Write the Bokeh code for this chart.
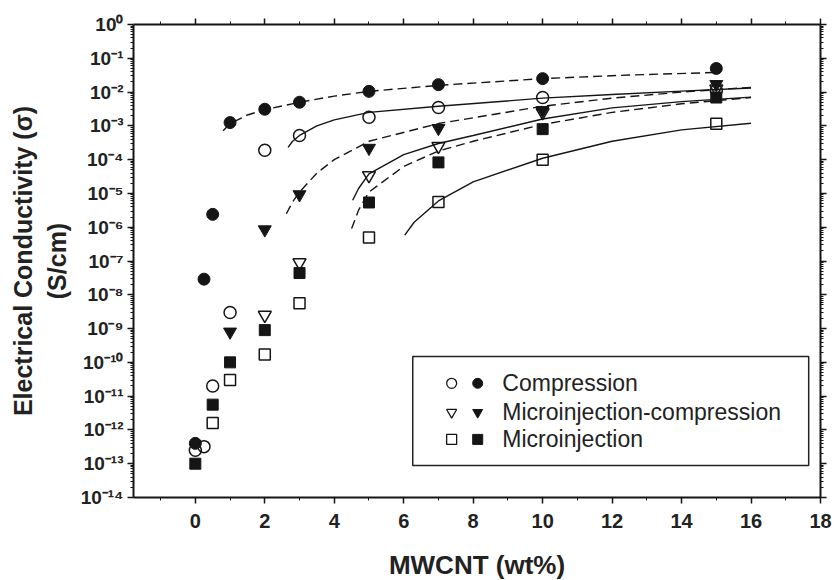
from bokeh.plotting import figure
from bokeh.models import (LinearAxis, LogAxis, FixedTicker, CustomJSTickFormatter,
                          Range1d)
from bokeh.core.properties import value
from bokeh.embed import file_html
from bokeh.resources import INLINE

# ---- measured conductivity (S/cm) vs MWCNT loading (wt%) ----
comp_fill_x = [0, 0.25, 0.5, 1, 2, 3, 5, 7, 10, 15]
comp_fill_y = [4e-13, 2.9e-8, 2.4e-6, 1.25e-3, 3.1e-3, 5.0e-3, 1.05e-2, 1.66e-2, 2.5e-2, 5.0e-2]
comp_open_x = [0, 0.25, 0.5, 1, 2, 3, 5, 7, 10, 15]
comp_open_y = [2.5e-13, 3.2e-13, 2.0e-11, 3.0e-9, 1.9e-4, 5.2e-4, 1.8e-3, 3.5e-3, 6.9e-3, 1.1e-2]

mc_fill_x = [1, 2, 3, 5, 7, 10, 15]
mc_fill_y = [8e-10, 8.5e-7, 9.3e-6, 2.2e-4, 8.5e-4, 2.9e-3, 1.7e-2]
mc_open_x = [2, 3, 5, 7, 10, 15]
mc_open_y = [2.5e-9, 9e-8, 3.4e-5, 2.5e-4, 2.5e-3, 1.25e-2]

mi_fill_x = [0, 0.5, 1, 2, 3, 5, 7, 10, 15]
mi_fill_y = [1e-13, 5.6e-12, 1e-10, 9e-10, 4.4e-8, 5.4e-6, 8.3e-5, 8e-4, 6.9e-3]
mi_open_x = [0.5, 1, 2, 3, 5, 7, 10, 15]
mi_open_y = [1.6e-12, 3e-11, 1.7e-10, 5.6e-9, 5e-7, 5.6e-6, 1e-4, 1.15e-3]

# ---- percolation fit curves (dashed: filled symbols, solid: open symbols) ----
fit_comp_fill_x = [0.8, 1, 1.5, 2, 3, 4, 5, 7, 10, 12.5, 15]
fit_comp_fill_y = [7.2e-4, 1.17e-3, 2.1e-3, 3.0e-3, 5.0e-3, 7.6e-3, 1.05e-2, 1.58e-2, 2.5e-2, 3.2e-2, 3.8e-2]
fit_comp_open_x = [2.67, 2.8, 3, 3.5, 4, 5, 7, 10, 12, 14, 16]
fit_comp_open_y = [2.3e-4, 3.5e-4, 5.2e-4, 1.0e-3, 1.5e-3, 2.5e-3, 3.8e-3, 6.6e-3, 8.5e-3, 1.07e-2, 1.32e-2]
fit_mc_fill_x = [2.62, 2.8, 3, 3.5, 4, 5, 7, 10, 12, 14, 16]
fit_mc_fill_y = [2.5e-6, 5.6e-6, 1.1e-5, 4.0e-5, 1.0e-4, 3.5e-4, 1.17e-3, 3.8e-3, 6.6e-3, 1.0e-2, 1.38e-2]
fit_mc_open_x = [4.53, 4.7, 5, 6, 7, 8, 10, 12, 14, 16]
fit_mc_open_y = [6.3e-6, 1.4e-5, 3.8e-5, 1.4e-4, 3.0e-4, 5.2e-4, 1.6e-3, 3.4e-3, 5.2e-3, 7.1e-3]
fit_mi_fill_x = [4.5, 4.7, 5, 6, 7, 8, 10, 12, 14, 16]
fit_mi_fill_y = [9.1e-7, 3.2e-6, 1.1e-5, 6.3e-5, 1.8e-4, 3.5e-4, 1.1e-3, 2.5e-3, 4.5e-3, 6.9e-3]
fit_mi_open_x = [6.03, 6.3, 7, 8, 10, 12, 14, 16]
fit_mi_open_y = [5.8e-7, 1.4e-6, 6.0e-6, 2.2e-5, 1.1e-4, 3.5e-4, 7.6e-4, 1.2e-3]

legend_labels = ["Compression", "Microinjection-compression", "Microinjection"]
legend_markers = ["circle", "inverted_triangle", "square"]

x_major = [0, 2, 4, 6, 8, 10, 12, 14, 16, 18]
x_minor = [-1, 1, 3, 5, 7, 9, 11, 13, 15, 17]
y_major = [10.0 ** -k for k in range(15)]
y_minor = [m * 10.0 ** -k for k in range(1, 15) for m in range(2, 10)]

INK = "#151515"
FONT = "Liberation Sans"

p = figure(frame_width=687, frame_height=473,
           x_range=Range1d(-1.78, 18), y_range=Range1d(1e-14, 1),
           y_axis_type="log", output_backend="svg", toolbar_location=None,
           min_border_left=133, min_border_right=12, min_border_top=24,
           min_border_bottom=83, background_fill_color="white",
           border_fill_color="white")
p.grid.visible = False
p.outline_line_color = None

sup_code = """
const s = {"0":"\u2070","1":"\u00b9","2":"\u00b2","3":"\u00b3","4":"\u2074",
           "5":"\u2075","6":"\u2076","7":"\u2077","8":"\u2078","9":"\u2079","-":"\u207b"};
const e = Math.round(Math.log10(tick));
return "10" + String(e).split("").map(c => s[c]).join("");
"""
blank = CustomJSTickFormatter(code="return '';")


def style_axis(ax):
    ax.axis_line_width = 2
    ax.axis_line_color = INK
    ax.major_tick_line_color = INK
    ax.minor_tick_line_color = INK
    ax.major_tick_line_width = 1.5
    ax.minor_tick_line_width = 1
    ax.major_tick_in = 0
    ax.major_tick_out = 6
    ax.minor_tick_in = 0
    ax.minor_tick_out = 3
    ax.major_label_text_font = FONT
    ax.major_label_text_font_style = "bold"
    ax.major_label_text_font_size = "20px"
    ax.major_label_text_color = "#222222"
    ax.axis_label_text_font = FONT
    ax.axis_label_text_font_style = "bold"
    ax.axis_label_text_color = "#222222"


xa = p.xaxis[0]
xa.ticker = FixedTicker(ticks=x_major, minor_ticks=x_minor)
style_axis(xa)
xa.major_label_standoff = 10
xa.axis_label = "MWCNT (wt%)"
xa.axis_label_text_font_size = "26px"
xa.axis_label_standoff = 19

ya = p.yaxis[0]
ya.ticker = FixedTicker(ticks=y_major, minor_ticks=y_minor)
ya.formatter = CustomJSTickFormatter(code=sup_code)
style_axis(ya)
ya.major_label_text_font_size = "19px"
ya.major_label_standoff = 4
ya.axis_label = "Electrical Conductivity (\u03c3)\n(S/cm)"
ya.axis_label_text_font_size = "25px"
ya.axis_label_standoff = 7

top = LinearAxis(ticker=FixedTicker(ticks=x_major, minor_ticks=x_minor), formatter=blank)
style_axis(top)
p.add_layout(top, "above")
right = LogAxis(ticker=FixedTicker(ticks=y_major, minor_ticks=y_minor), formatter=blank)
style_axis(right)
p.add_layout(right, "right")

# fit curves
dash = "9 5"
p.line(fit_comp_fill_x, fit_comp_fill_y, line_color=INK, line_width=1.4, line_dash=dash)
p.line(fit_comp_open_x, fit_comp_open_y, line_color=INK, line_width=1.4)
p.line(fit_mc_fill_x, fit_mc_fill_y, line_color=INK, line_width=1.4, line_dash=dash)
p.line(fit_mc_open_x, fit_mc_open_y, line_color=INK, line_width=1.4)
p.line(fit_mi_fill_x, fit_mi_fill_y, line_color=INK, line_width=1.4, line_dash=dash)
p.line(fit_mi_open_x, fit_mi_open_y, line_color=INK, line_width=1.4)

# measured points
p.scatter(comp_fill_x, comp_fill_y, marker="circle", size=12, fill_color=INK, line_color=INK)
p.scatter(mc_fill_x, mc_fill_y, marker="inverted_triangle", size=13, fill_color=INK, line_color=INK)
p.scatter(mi_fill_x, mi_fill_y, marker="square", size=11, fill_color=INK, line_color=INK)
p.scatter(comp_open_x, comp_open_y, marker="circle", size=12, fill_color=None, line_color=INK, line_width=1.5)
p.scatter(mc_open_x, mc_open_y, marker="inverted_triangle", size=13, fill_color=None, line_color=INK, line_width=1.5)
p.scatter(mi_open_x, mi_open_y, marker="square", size=11, fill_color=None, line_color=INK, line_width=1.5)

# legend panel (drawn in data space, lower right of the frame)
leg_left, leg_right = 6.26, 17.66
leg_top, leg_bottom = 10 ** -9.83, 10 ** -13.05
p.quad(left=[leg_left], right=[leg_right], top=[leg_top], bottom=[leg_bottom],
       fill_color="white", line_color="#222222", line_width=1.5)
row_y = [10 ** -10.62, 10 ** -11.48, 10 ** -12.28]
for lab, mk, yy in zip(legend_labels, legend_markers, row_y):
    p.scatter([7.38], [yy], marker=mk, size=10, fill_color=None, line_color=INK, line_width=1.3)
    p.scatter([8.13], [yy], marker=mk, size=10, fill_color=INK, line_color=INK)
    p.text([8.84], [yy], text=[lab], text_font=value(FONT), text_font_size="23px",
           text_color="#222222", text_baseline="middle", text_align="left")

with open("out.html", "w", encoding="utf-8") as f:
    f.write(file_html(p, INLINE))
